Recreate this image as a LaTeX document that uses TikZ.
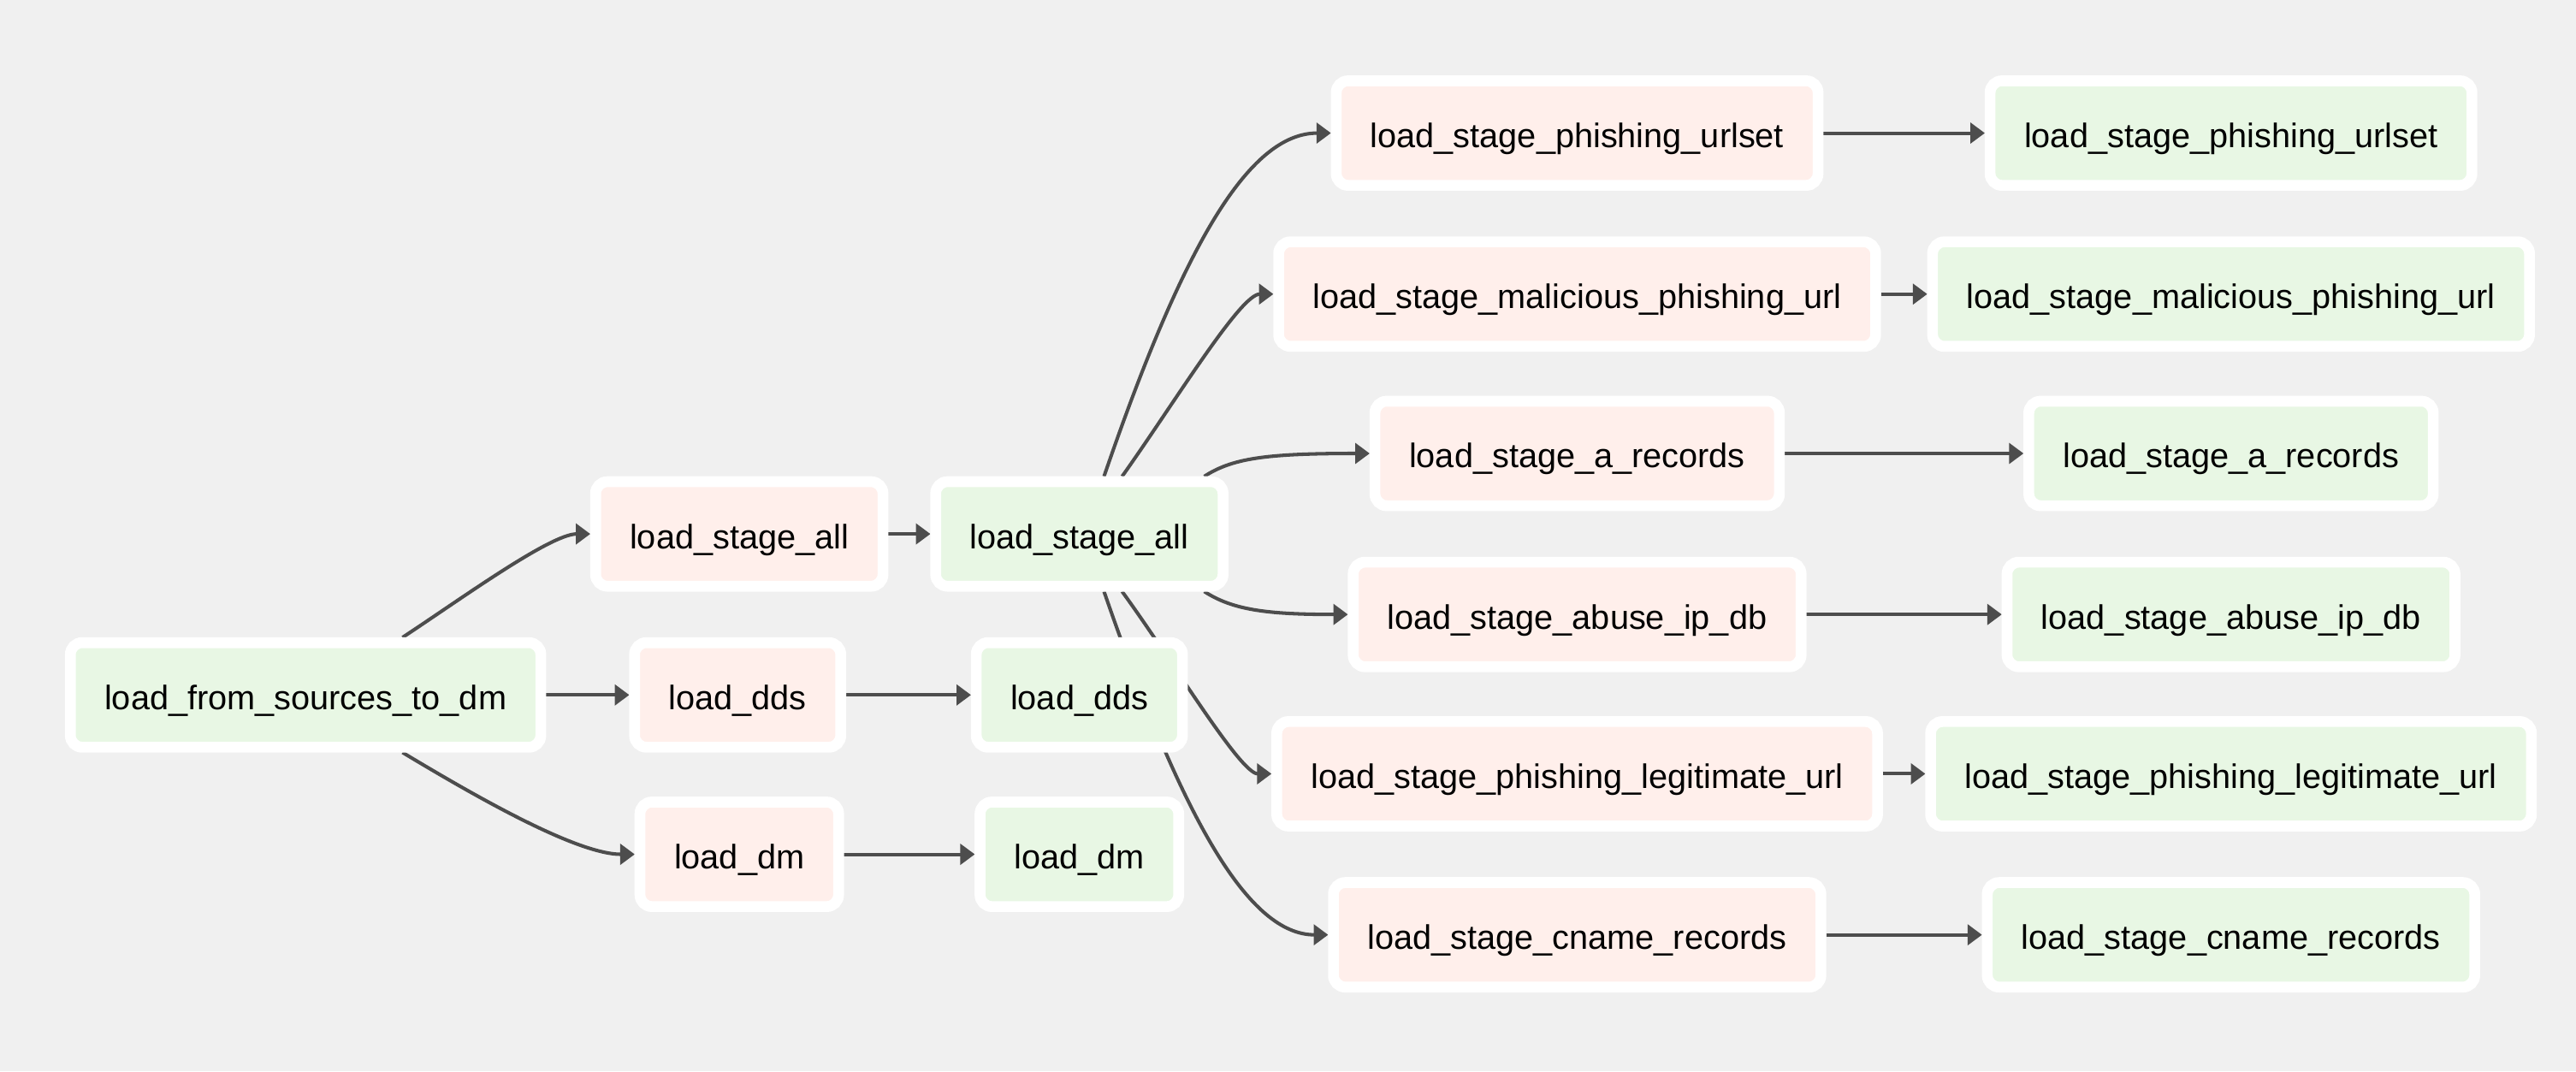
\documentclass[tikz,border=0pt]{standalone}
\usepackage{fontspec}
\setmainfont{Liberation Sans}
\usetikzlibrary{arrows.meta,backgrounds,calc}
\definecolor{canvas}{HTML}{F0F0F0}
\definecolor{pinkop}{HTML}{FFEFEB}
\definecolor{greenop}{HTML}{E8F7E4}
\definecolor{edgegray}{HTML}{4D4D4D}

\begin{document}
\begin{tikzpicture}[
  x=0.025cm, y=-0.025cm,
  every node/.style={font=\fontsize{14.7}{17}\selectfont},
  task/.style={draw=white,line width=0.165cm,rounded corners=0.18cm,inner xsep=0.52cm,minimum height=1.59cm,text height=0.55cm,text depth=0.11cm,outer sep=0.08cm},
  pinktask/.style={task,fill=pinkop},
  greentask/.style={task,fill=greenop},
  arr/.style={-{Triangle[length=0.22cm,width=0.31cm]},line width=1.5pt,color=edgegray}
]
\node[greentask] (src) at (186,423) {load\_from\_sources\_to\_dm};
\node[pinktask] (stgall_p) at (450,325) {load\_stage\_all};
\node[pinktask] (dds_p) at (449,423) {load\_dds};
\node[pinktask] (dm_p) at (450,520) {load\_dm};
\node[greentask] (stgall_g) at (657,325) {load\_stage\_all};
\node[greentask] (dds_g) at (657,423) {load\_dds};
\node[greentask] (dm_g) at (657,520) {load\_dm};
\node[pinktask] (urlset_p) at (960,81) {load\_stage\_phishing\_urlset};
\node[pinktask] (malic_p) at (960,179) {load\_stage\_malicious\_phishing\_url};
\node[pinktask] (arec_p) at (960,276) {load\_stage\_a\_records};
\node[pinktask] (abuse_p) at (960,374) {load\_stage\_abuse\_ip\_db};
\node[pinktask] (legit_p) at (960,471) {load\_stage\_phishing\_legitimate\_url};
\node[pinktask] (cname_p) at (960,569) {load\_stage\_cname\_records};
\node[greentask] (urlset_g) at (1358,81) {load\_stage\_phishing\_urlset};
\node[greentask] (malic_g) at (1358,179) {load\_stage\_malicious\_phishing\_url};
\node[greentask] (arec_g) at (1358,276) {load\_stage\_a\_records};
\node[greentask] (abuse_g) at (1358,374) {load\_stage\_abuse\_ip\_db};
\node[greentask] (legit_g) at (1358,471) {load\_stage\_phishing\_legitimate\_url};
\node[greentask] (cname_g) at (1358,569) {load\_stage\_cname\_records};

\begin{scope}[on background layer]
\fill[canvas] (0,0) rectangle (1568,652);
% fan out from the source
\draw[arr] ($(src.north)+(59,0)$) .. controls (280,365) and (335,325) .. (stgall_p.west);
\draw[arr] (src) -- (dds_p);
\draw[arr] ($(src.south)+(59,0)$) .. controls (285,482) and (350,520) .. (dm_p.west);
\draw[arr] (stgall_p) -- (stgall_g);
\draw[arr] (dds_p) -- (dds_g);
\draw[arr] (dm_p) -- (dm_g);
% fan out from load_stage_all
\draw[arr] ($(stgall_g.north)+(15,0)$) .. controls (720,150) and (760,81) .. (urlset_p.west);
\draw[arr] ($(stgall_g.north)+(26,0)$) .. controls (715,245) and (755,179) .. (malic_p.west);
\draw[arr] ($(stgall_g.north)+(76,0)$) .. controls (750,279) and (770,276) .. (arec_p.west);
\draw[arr] ($(stgall_g.south)+(76,0)$) .. controls (750,371) and (770,374) .. (abuse_p.west);
\draw[arr] ($(stgall_g.south)+(26,0)$) .. controls (715,404) and (755,471) .. (legit_p.west);
\draw[arr] ($(stgall_g.south)+(15,0)$) .. controls (720,499) and (760,569) .. (cname_p.west);
\draw[arr] (urlset_p) -- (urlset_g);
\draw[arr] (malic_p) -- (malic_g);
\draw[arr] (arec_p) -- (arec_g);
\draw[arr] (abuse_p) -- (abuse_g);
\draw[arr] (legit_p) -- (legit_g);
\draw[arr] (cname_p) -- (cname_g);
\end{scope}
\end{tikzpicture}
\end{document}
